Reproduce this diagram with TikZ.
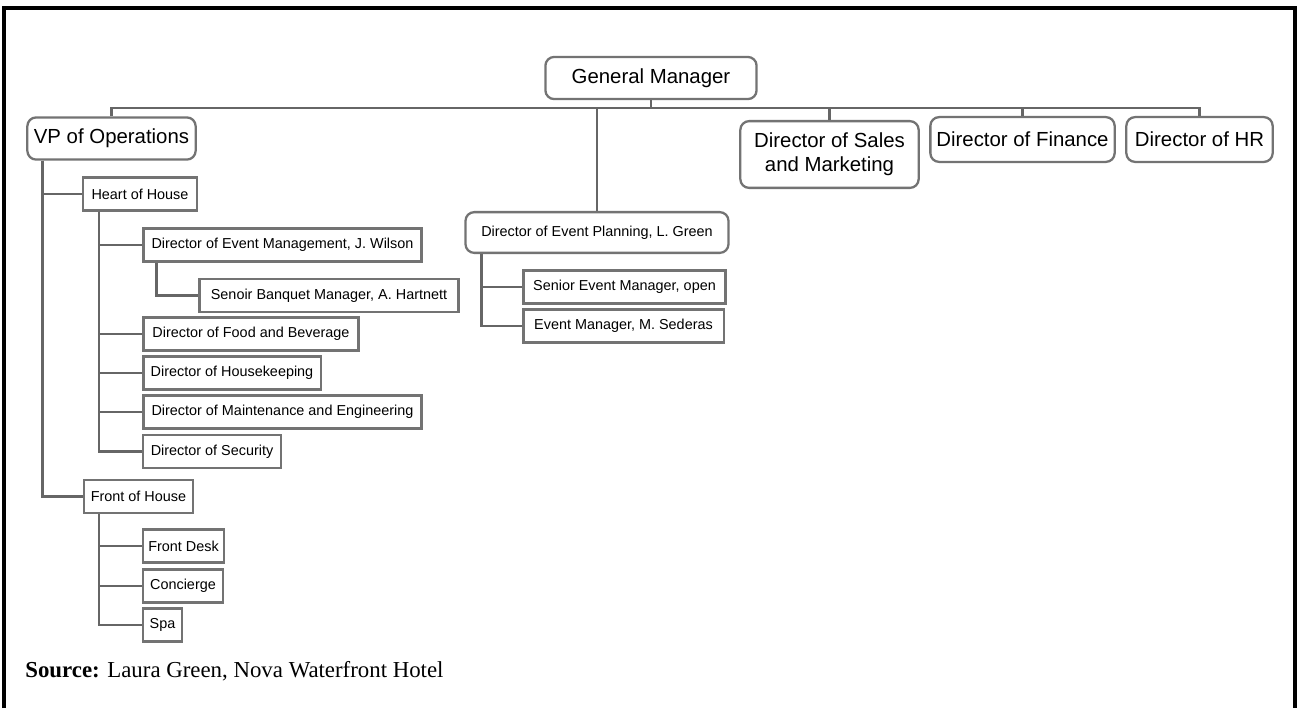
\documentclass[tikz,border=0pt]{standalone}
\usepackage{fontspec}
\setmainfont{Liberation Serif}
\setsansfont{Liberation Sans}
\tikzset
{
  big/.style={draw=black!55,line width=1.3pt,rounded corners=5pt,fill=white,inner xsep=2pt,
    font=\sffamily\fontsize{11.6}{13.7}\selectfont,minimum width=#1,minimum height=24pt},
  plain/.style={draw=black!55,line width=1.3pt,fill=white,inner xsep=2pt,
    font=\sffamily\fontsize{8.2}{10}\selectfont,minimum width=#1,minimum height=18.7pt},
  conn/.style={draw=black!60,line width=1.5pt},
}
\begin{document}
\begin{tikzpicture}[x=0.02cm,y=-0.02cm]
\useasboundingbox (0,0) rectangle (1298,708);
\draw[line width=2.3pt] (4,708) -- (4,8) -- (1295,8) -- (1295,708);%frame, open at the bottom
% top level
\node[big=120.2pt] (gm) at (651,78) {General Manager};
\node[big=95.8pt] (vp) at (111.5,138.5) {VP of Operations};
\node[big=101.5pt,align=center,minimum height=38pt] (sales) at (829.5,154.5) {Director of Sales\\and Marketing};
\node[big=104.9pt,minimum height=25.5pt] (fin) at (1022.5,139.5) {Director of Finance};
\node[big=83.3pt,minimum height=25.5pt] (hr) at (1199.5,139.5) {Director of HR};
\node[plain=149.7pt,rounded corners=5pt,minimum height=23.2pt] (plan) at (597,232.5) {Director of Event Planning, L. Green};
% operations
\node[plain=64.6pt] (heart) at (140,194) {Heart of House};
\node[plain=158.2pt] (dem) at (282.5,245) {Director of Event Management, J. Wilson};
\node[plain=147.4pt] (sbm) at (329,295.5) {Senoir Banquet Manager, A. Hartnett};
\node[plain=122.5pt] (dfb) at (251,334) {Director of Food and Beverage};
\node[plain=100.9pt] (dhk) at (232,373) {Director of Housekeeping};
\node[plain=158.2pt] (dme) at (282.5,412) {Director of Maintenance and Engineering};
\node[plain=78.2pt] (dsec) at (212,451.5) {Director of Security};
\node[plain=61.8pt] (foh) at (138.5,496.5) {Front of House};
\node[plain=45.9pt] (desk) at (183.5,546) {Front Desk};
\node[plain=45.4pt] (conc) at (183,586) {Concierge};
\node[plain=22.1pt] (spa) at (162.5,625) {Spa};
% event planning
\node[plain=115.1pt] (sem) at (624.5,287) {Senior Event Manager, open};
\node[plain=114pt] (em) at (623.5,326) {Event Manager, M. Sederas};
% connectors
\coordinate (bus) at (0,108);
\draw[conn] (gm.south) -- (gm.south |- bus);
\draw[conn] (vp.north) -- (vp.north |- bus) -- (hr.north |- bus) -- (hr.north);
\foreach \n in {plan,sales,fin}
  \draw[conn] (\n.north) -- (\n.north |- bus);
\foreach \c in {heart,foh}
  \draw[conn] ([xshift=0.32cm]vp.south west) |- (\c.west);
\foreach \c in {dem,dfb,dhk,dme,dsec}
  \draw[conn] ([xshift=0.34cm]heart.south west) |- (\c.west);
\draw[conn] ([xshift=0.28cm]dem.south west) |- (sbm.west);
\foreach \c in {desk,conc,spa}
  \draw[conn] ([xshift=0.32cm]foh.south west) |- (\c.west);
\foreach \c in {sem,em}
  \draw[conn] ([xshift=0.34cm]plan.south west) |- (\c.west);
\node[anchor=base west,inner sep=0pt,font=\fontsize{13}{15}\selectfont] (src) at (25,677) {\textbf{Source:} Laura Green, Nova Waterfront Hotel};
\end{tikzpicture}
\end{document}
